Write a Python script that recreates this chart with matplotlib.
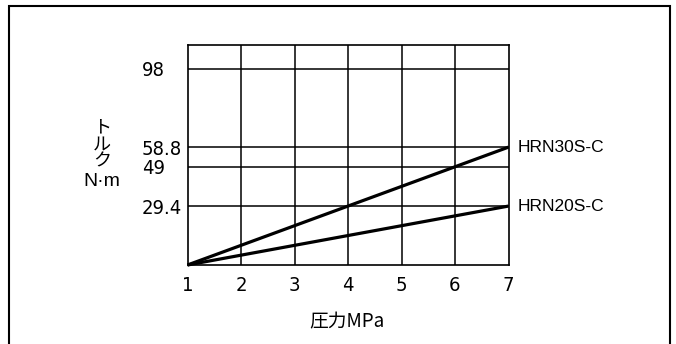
import matplotlib.pyplot as plt
from matplotlib.patches import Rectangle

# data
pressure = [1, 2, 3, 4, 5, 6, 7]
y_ticks = [98, 58.8, 49, 29.4]
y_tick_labels = ['98', '58.8', '49', '29.4']
series_names = ['HRN30S-C', 'HRN20S-C']
series_x = [[1, 7], [1, 7]]
series_y = [[0, 58.8], [0, 29.4]]

W, H = 676, 344
fig = plt.figure(figsize=(W / 100, H / 100), dpi=100)

# outer frame
fig.patches.append(Rectangle((9 / W, -0.1), (670 - 9) / W, 1.1 - 6 / H,
                             transform=fig.transFigure, fill=False,
                             edgecolor='black', linewidth=1.5))

left, right, top, bottom = 187.5, 508.5, 44.5, 265
ax = fig.add_axes([left / W, 1 - bottom / H, (right - left) / W, (bottom - top) / H])
ax.set_xlim(1, 7)
ax.set_ylim(0, 110)

tick_font = dict(family='DejaVu Sans', stretch='condensed', size=14.5)

for x in pressure[1:-1]:
    ax.axvline(x, color='black', linewidth=1.1)
for y in y_ticks:
    ax.axhline(y, color='black', linewidth=1.1)

for xs, ys, name in zip(series_x, series_y, series_names):
    ax.plot(xs, ys, color='black', linewidth=2.3, solid_capstyle='butt', clip_on=False)
    ax.text(7.17, ys[-1], name, fontsize=12.5, family='Liberation Sans',
            va='center', ha='left')

for s in ax.spines.values():
    s.set_linewidth(1.2)

ax.set_xticks(pressure)
ax.set_xticklabels([str(p) for p in pressure], fontproperties=tick_font)
ax.set_yticks(y_ticks)
ax.set_yticklabels(y_tick_labels, fontproperties=tick_font, ha='left')
ax.tick_params(axis='both', length=0)
ax.tick_params(axis='x', pad=8)
ax.tick_params(axis='y', pad=33)

# y axis title: vertical katakana + unit
jp = ['Noto Sans CJK JP', 'DejaVu Sans']
for i, ch in enumerate(['ト', 'ル', 'ク']):
    fig.text(102 / W, 1 - (127 + i * 17.5) / H, ch, family=jp, fontsize=13,
             ha='center', va='center')
fig.text(102 / W, 1 - 181 / H, 'N·m', family='Liberation Sans', fontsize=14,
         ha='center', va='center')

fig.text(347 / W, 1 - 322 / H, '圧力MPa', family=jp, fontsize=13.5,
         ha='center', va='center')

fig.savefig('out.png', dpi=100)
